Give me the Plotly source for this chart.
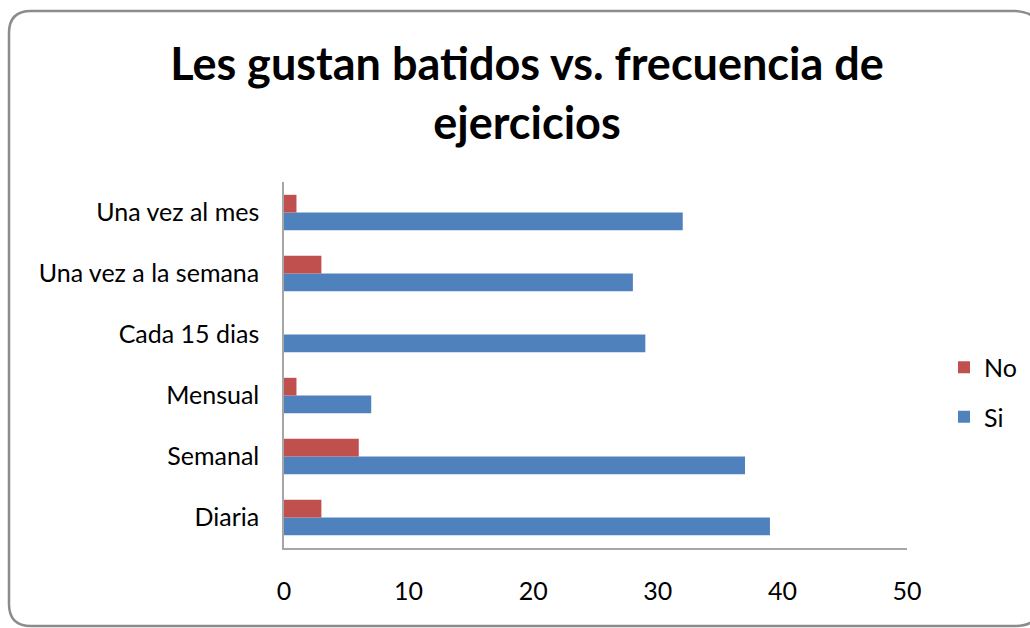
import plotly.graph_objects as go

categories = ["Diaria", "Semanal", "Mensual", "Cada 15 dias", "Una vez a la semana", "Una vez al mes"]
si_values = [39, 37, 7, 29, 28, 32]
no_values = [3, 6, 1, 0, 3, 1]
x_ticks = [0, 10, 20, 30, 40, 50]

W, H = 1030, 628
def px(x):
    return x / W
def py(y):
    return 1 - y / H

FONT = "Lato"

fig = go.Figure()
fig.add_trace(go.Bar(y=categories, x=si_values, orientation="h", name="Si", legendrank=2,
                     legendgroup="si",
                     marker=dict(color="#4F81BD", line=dict(width=0))))
fig.add_trace(go.Bar(y=categories, x=no_values, orientation="h", name="No", legendrank=1,
                     legendgroup="no",
                     marker=dict(color="#C0504D", line=dict(width=0))))

# rounded frame (right side runs past the picture edge, as in the original)
x0, x1, y0, y1, r = 9, 1060, 11, 626, 22
path = (f"M {px(x0+r)},{py(y0)} L {px(1015)},{py(y0)} Q {px(1030)},{py(y0+1)} {px(1036)},{py(y0+8)} "
        f"M {px(1036)},{py(y1-8)} Q {px(1030)},{py(y1)} {px(1015)},{py(y1)} "
        f"L {px(x0+r)},{py(y1)} Q {px(x0)},{py(y1)} {px(x0)},{py(y1-r)} "
        f"L {px(x0)},{py(y0+r)} Q {px(x0)},{py(y0)} {px(x0+r)},{py(y0)}")

fig.update_layout(
    width=W, height=H,
    margin=dict(l=0, r=0, t=0, b=0, autoexpand=False),
    paper_bgcolor="white", plot_bgcolor="white",
    barmode="group", bargap=0.42, bargroupgap=0,
    font=dict(family=FONT, color="#000000"),
    title=dict(text="<b>Les gustan batidos vs. frecuencia de<br>ejercicios</b>",
               x=px(527), xanchor="center", y=py(80), yanchor="middle",
               font=dict(family=FONT, size=45, color="#000000")),
    xaxis=dict(domain=[px(284), px(907)], range=[0, 50], tickvals=x_ticks, automargin=False,
               showgrid=False, zeroline=False, showline=True, linecolor="#A6A6A6", linewidth=1.5,
               ticks="", ticklabelstandoff=20, tickfont=dict(size=25, family=FONT)),
    yaxis=dict(domain=[py(548), py(182)], categoryorder="array", categoryarray=categories,
               automargin=False,
               showgrid=False, zeroline=False, showline=True, linecolor="#A6A6A6", linewidth=1.5,
               ticks="", ticklabelstandoff=18, tickfont=dict(size=25, family=FONT)),
    legend=dict(x=px(944), y=py(392), xanchor="left", yanchor="middle",
                traceorder="grouped", tracegroupgap=14, font=dict(size=25, family=FONT),
                bgcolor="rgba(0,0,0,0)"),
    shapes=[dict(type="path", path=path, xref="paper", yref="paper",
                 line=dict(color="#8C8C8C", width=2.5), layer="above")],
)

fig.write_html("out.html", config={"displayModeBar": False},
               post_script="document.body.style.margin='0';document.body.style.overflow='hidden';")
